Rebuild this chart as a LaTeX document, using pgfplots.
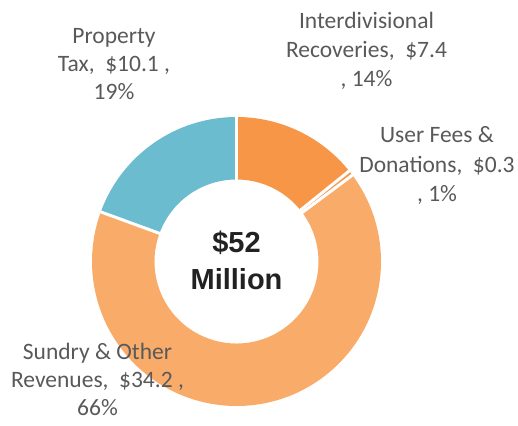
\documentclass[border=0pt]{standalone}
\usepackage{pgfplots}
\usepackage{pgfplotstable}
\pgfplotsset{compat=1.18}
\usepackage{fontspec}
\setmainfont{Carlito}
\newfontfamily\centerfont{Liberation Sans}
\definecolor{c0}{HTML}{F79646}
\definecolor{c1}{HTML}{F39A52}
\definecolor{c2}{HTML}{F9AC6A}
\definecolor{c3}{HTML}{6CBCD0}
\definecolor{lbl}{HTML}{595959}
\definecolor{ctr}{HTML}{222222}
\tikzset{lab/.style={anchor=base, text=lbl, inner sep=0pt, font=\fontsize{23.5}{28}\selectfont},
  ctrlab/.style={anchor=base, inner sep=0pt, text=ctr, font=\centerfont\bfseries\fontsize{29}{35}\selectfont}}

\pgfplotstableread{
value
7.4
0.3
34.2
10.1
}\data

% cumulative angles computed from the table
\newcommand{\computeangles}{%
  \gdef\mytotal{0}%
  \pgfplotsforeachungrouped \ii in {0,1,2,3}{%
    \pgfplotstablegetelem{\ii}{value}\of\data
    \pgfmathparse{\mytotal+\pgfplotsretval}%
    \xdef\mytotal{\pgfmathresult}%
  }%
  \gdef\mycum{0}%
  \pgfplotsforeachungrouped \ii in {0,1,2,3}{%
    \pgfplotstablegetelem{\ii}{value}\of\data
    \edef\myval{\pgfplotsretval}%
    \pgfmathparse{90-360*(\mycum/\mytotal)}%
    \expandafter\xdef\csname angs\ii\endcsname{\pgfmathresult}%
    \pgfmathparse{\mycum+\myval}%
    \xdef\mycum{\pgfmathresult}%
    \pgfmathparse{90-360*(\mycum/\mytotal)}%
    \expandafter\xdef\csname ange\ii\endcsname{\pgfmathresult}%
  }%
}
\newcommand{\slice}[1]{%
  \fill[c#1] (axis cs:{144.5*cos(\csname angs#1\endcsname)},{144.5*sin(\csname angs#1\endcsname)})
    arc[start angle=\csname angs#1\endcsname, end angle=\csname ange#1\endcsname, radius=144.5pt]
    -- (axis cs:{82*cos(\csname ange#1\endcsname)},{82*sin(\csname ange#1\endcsname)})
    arc[start angle=\csname ange#1\endcsname, end angle=\csname angs#1\endcsname, radius=82pt] -- cycle;
}
\newcommand{\sep}[1]{%
  \draw[white, line width=3pt] (axis cs:{78*cos(\csname angs#1\endcsname)},{78*sin(\csname angs#1\endcsname)})
    -- (axis cs:{148*cos(\csname angs#1\endcsname)},{148*sin(\csname angs#1\endcsname)});
}

\begin{document}
\computeangles
\begin{tikzpicture}
\begin{axis}[x=1pt, y=1pt, xmin=-236.5, xmax=281.5, ymin=-158.5, ymax=261.5,
  hide axis, clip=false]
\path (axis cs:-236.5,-158.5) rectangle (axis cs:281.5,261.5);
\slice{0}\slice{1}\slice{2}\slice{3}
\sep{0}\sep{1}\sep{2}\sep{3}
% labels
\node[lab] at (axis cs:-122.5,217.5) {Property};
\node[lab] at (axis cs:-122.5,189.5) {Tax,\ \ \$10.1 ,};
\node[lab] at (axis cs:-122.5,161.5) {19\%};
\node[lab] at (axis cs:130,232.5) {Interdivisional};
\node[lab] at (axis cs:130,203.5) {Recoveries,\ \ \$7.4};
\node[lab] at (axis cs:130,174.5) {, 14\%};
\node[lab] at (axis cs:200.5,118.5) {User Fees \&};
\node[lab] at (axis cs:200.5,89.5) {Donations,\ \ \$0.3};
\node[lab] at (axis cs:200.5,60) {, 1\%};
\node[lab] at (axis cs:-139,-97.5) {Sundry \& Other};
\node[lab] at (axis cs:-139,-125.5) {Revenues,\ \ \$34.2 ,};
\node[lab] at (axis cs:-139,-153.5) {66\%};
\node[ctrlab] at (axis cs:0,9.5) {\$52};
\node[ctrlab] at (axis cs:0,-27.5) {Million};
\end{axis}
\end{tikzpicture}
\end{document}
